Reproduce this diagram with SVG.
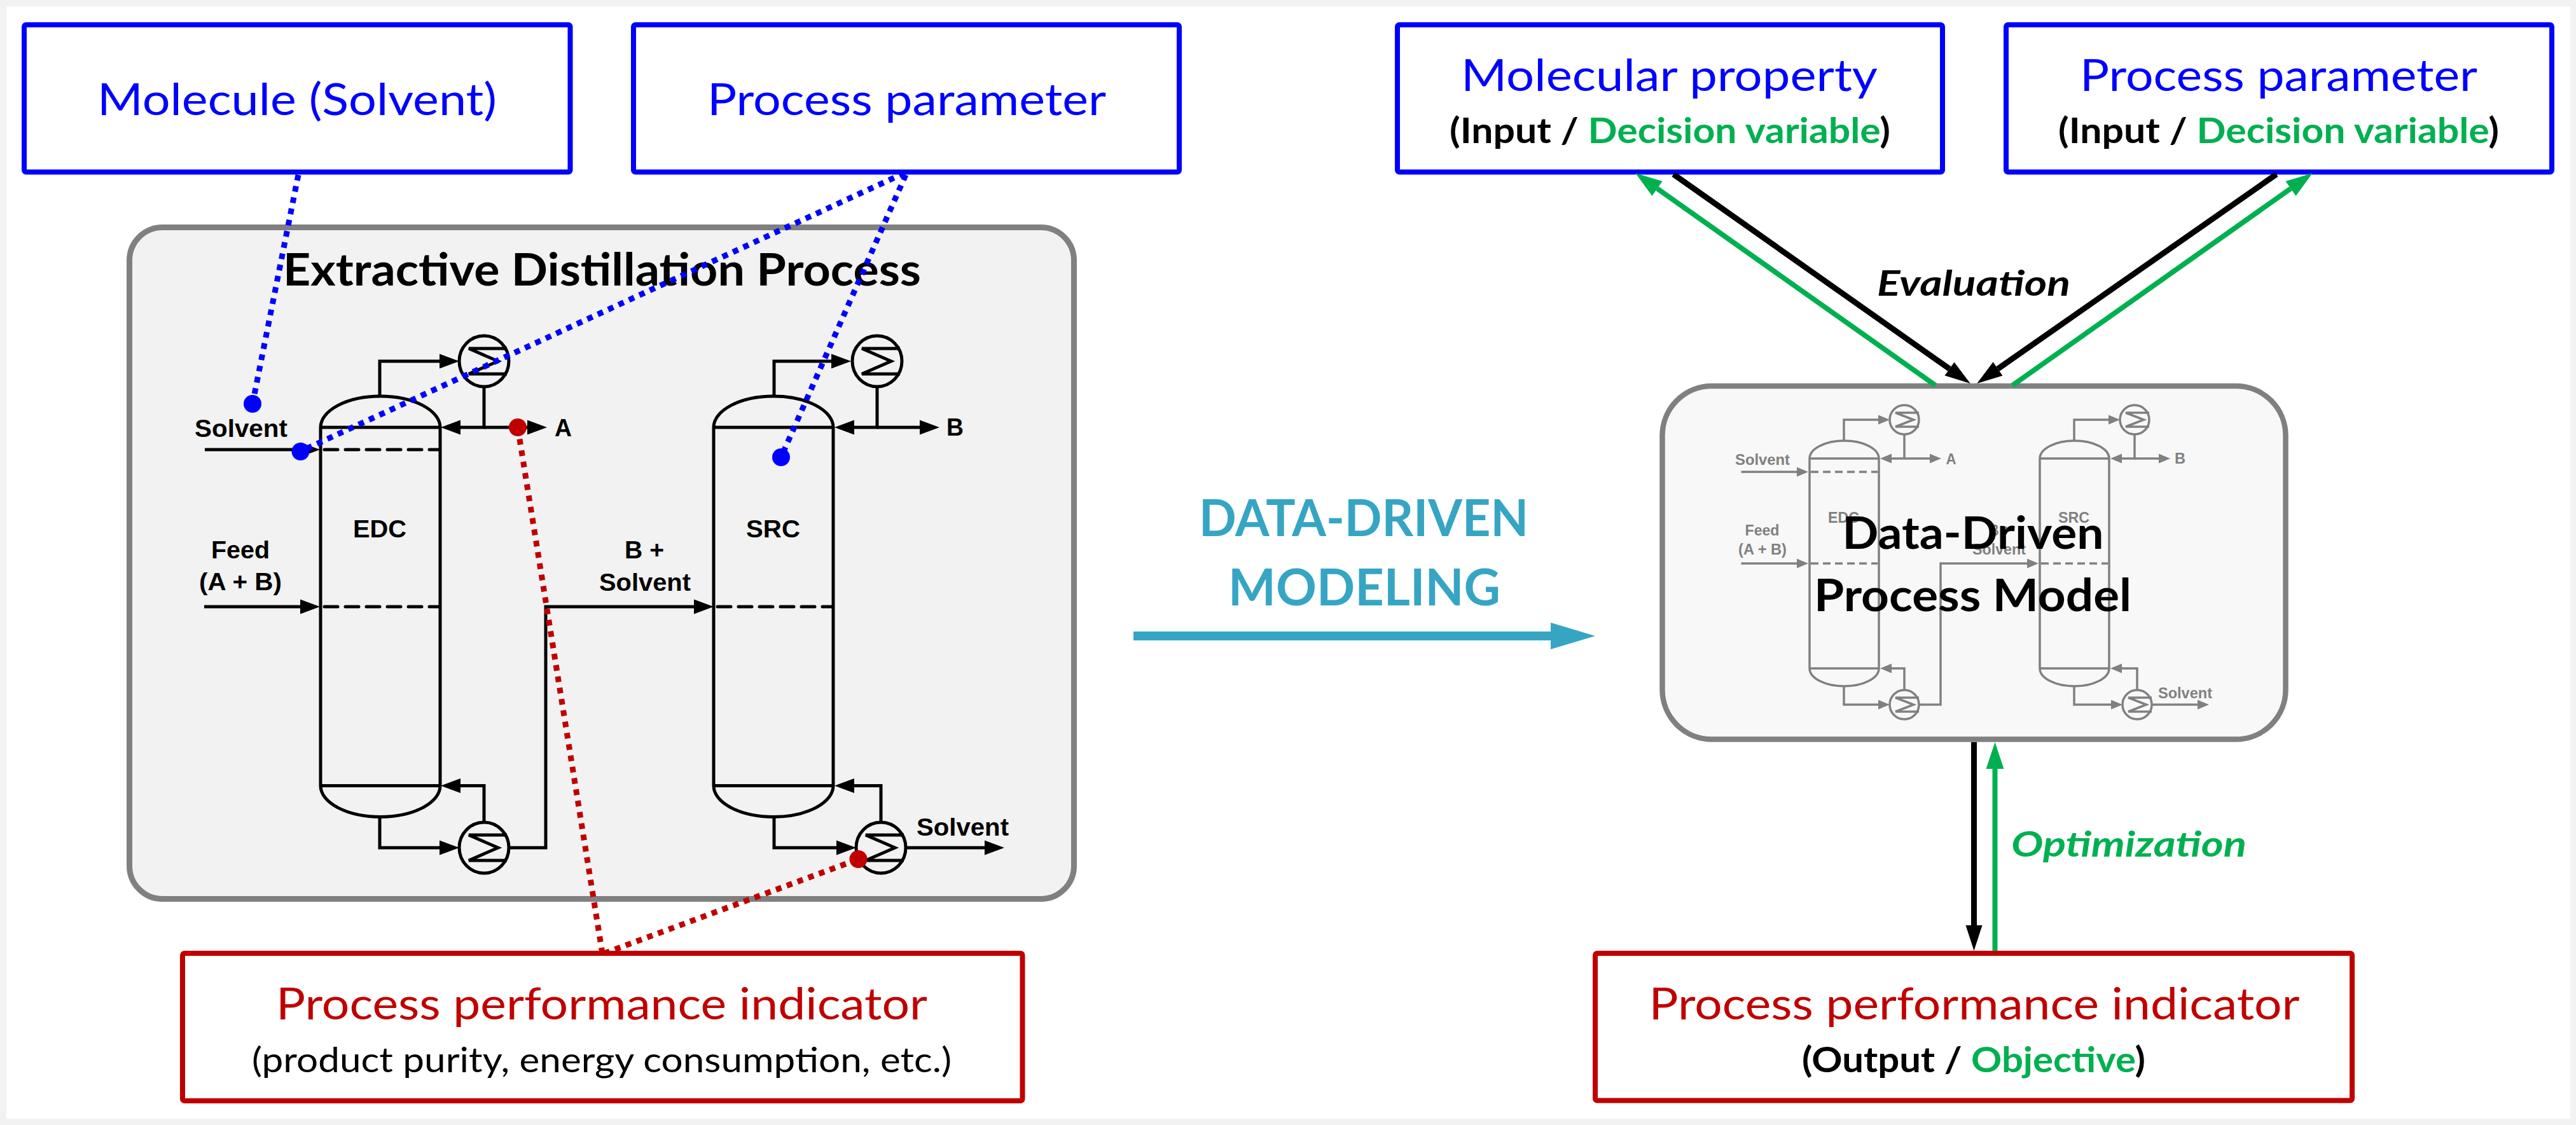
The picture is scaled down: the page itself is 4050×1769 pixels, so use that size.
<svg xmlns="http://www.w3.org/2000/svg" width="4050" height="1769" viewBox="0 0 4050 1769">
<style>
text{font-family:"Lato","Carlito","Open Sans",sans-serif}
.box{fill:#fff;stroke-width:8}
.blue{stroke:#0000ff}.red{stroke:#c00000}
.tb{fill:#0000ff;font-size:70px}
.tr{fill:#c00000;font-size:70px}
.sub{font-size:55px;font-weight:700;fill:#000}
.g{fill:#00b050}
.ttl{font-size:71px;font-weight:700;fill:#000}
.flow text,.mini text{font-family:"Liberation Sans",Arial,sans-serif;font-weight:700}
.flow text{font-size:38px;fill:#000}
.mini text{font-size:24px;fill:#808080}
.flow path,.flow line{fill:none;stroke:#000;stroke-width:5}
.mini path,.mini line{fill:none;stroke:#808080;stroke-width:3.5}
.flow .dash{stroke-dasharray:21 12;stroke-linecap:round}
.mini .dash{stroke-dasharray:12 7}
.arrow{marker-end:url(#ah)}
.mini .arrow{marker-end:url(#ahg)}
.dot{fill:none;stroke-width:9;stroke-dasharray:9 9}
.dotb{fill:#0000ff}.dotr{fill:#c00000}
.bk{stroke:#000;stroke-width:9;fill:none;marker-end:url(#hb)}
.gn{stroke:#00b050;stroke-width:8;fill:none;marker-end:url(#hg)}
</style>
<defs>
<marker id="ah" markerUnits="userSpaceOnUse" markerWidth="32" markerHeight="24" refX="0" refY="11.5" overflow="visible" orient="auto"><path d="M0,0L31,11.5L0,23Z" fill="#000"/></marker>
<marker id="ahg" markerUnits="userSpaceOnUse" markerWidth="20" markerHeight="16" refX="0" refY="7.5" overflow="visible" orient="auto"><path d="M0,0L18,7.5L0,15Z" fill="#808080"/></marker>
<marker id="hb" markerUnits="userSpaceOnUse" markerWidth="40" markerHeight="26" refX="0" refY="13" overflow="visible" orient="auto"><path d="M0,0L40,13L0,26Z" fill="#000"/></marker>
<marker id="hg" markerUnits="userSpaceOnUse" markerWidth="42" markerHeight="28" refX="0" refY="14" overflow="visible" orient="auto"><path d="M0,0L42,14L0,28Z" fill="#00b050"/></marker>
<g id="hx"><ellipse cx="0" cy="0" rx="39" ry="40" fill="none" stroke="#000" stroke-width="5"/><path d="M36,-20H-24L22,0L-24,20H36" fill="none" stroke="#000" stroke-width="5"/></g>
<g id="hxm"><ellipse cx="0" cy="0" rx="23" ry="23" fill="none" stroke="#808080" stroke-width="3.5"/><path d="M23,-11H-14L14.5,0L-14,11H23" fill="none" stroke="#808080" stroke-width="3.5"/></g>
</defs>
<rect width="4050" height="1769" fill="#f2f2f2"/>
<rect x="10" y="10" width="4031" height="1749" fill="#fff"/>

<g id="node-molecule">
<rect class="box blue" x="38" y="39" width="858.5" height="231.5" rx="3"/>
<text class="tb" x="153" y="181" textLength="628" lengthAdjust="spacingAndGlyphs">Molecule (Solvent)</text>
</g>
<g id="node-process-parameter-left">
<rect class="box blue" x="996" y="39" width="858" height="231.5" rx="3"/>
<text class="tb" x="1112" y="181" textLength="627" lengthAdjust="spacingAndGlyphs">Process parameter</text>
</g>

<g id="node-extractive-distillation">
<rect x="203.5" y="357.5" width="1485" height="1056" rx="52" fill="#f2f2f2" stroke="#808080" stroke-width="9"/>
<text class="ttl" x="445" y="449" textLength="1003" lengthAdjust="spacingAndGlyphs">Extractive Distillation Process</text>
<g class="flow">
<path d="M504,672A94,49 0 0 1 692,672H504M504,672V1235.5M692,672V1235.5M504,1235.5H692M504,1235.5A94,49 0 0 0 692,1235.5"/>
<path d="M1122,672A94,49 0 0 1 1310,672H1122M1122,672V1235.5M1310,672V1235.5M1122,1235.5H1310M1122,1235.5A94,49 0 0 0 1310,1235.5"/>
<path class="dash" d="M510,707H690"/><path class="dash" d="M510,954H690"/><path class="dash" d="M1128,954H1308"/>
<use href="#hx" x="761" y="568"/><use href="#hx" x="761" y="1333"/><use href="#hx" x="1379" y="568"/><use href="#hx" x="1385" y="1333"/>
<path class="arrow" d="M597,623V568H691"/>
<path class="arrow" d="M761,608V672H724"/>
<path class="arrow" d="M761,672H829"/>
<path class="arrow" d="M322,707H472"/>
<path class="arrow" d="M321,954H472"/>
<path class="arrow" d="M597,1284V1333H691"/>
<path class="arrow" d="M761,1293V1235.5H724"/>
<path class="arrow" d="M800,1333H858V954H1091"/>
<path class="arrow" d="M1217,623V568H1307"/>
<path class="arrow" d="M1379,608V672H1343"/>
<path class="arrow" d="M1379,672H1446"/>
<path class="arrow" d="M1217,1284V1333H1315"/>
<path class="arrow" d="M1385,1293V1235.5H1343"/>
<path class="arrow" d="M1424,1333H1548"/>
<text x="306" y="687" textLength="146" lengthAdjust="spacingAndGlyphs">Solvent</text>
<text x="872" y="686" textLength="27" lengthAdjust="spacingAndGlyphs">A</text>
<text x="1488" y="685" textLength="27" lengthAdjust="spacingAndGlyphs">B</text>
<text x="332" y="878" textLength="92" lengthAdjust="spacingAndGlyphs">Feed</text>
<text x="313" y="928" textLength="130" lengthAdjust="spacingAndGlyphs">(A + B)</text>
<text x="555" y="845" textLength="84" lengthAdjust="spacingAndGlyphs">EDC</text>
<text x="982" y="878" textLength="62" lengthAdjust="spacingAndGlyphs">B +</text>
<text x="942" y="929" textLength="144" lengthAdjust="spacingAndGlyphs">Solvent</text>
<text x="1173" y="845" textLength="85" lengthAdjust="spacingAndGlyphs">SRC</text>
<text x="1441" y="1314" textLength="145" lengthAdjust="spacingAndGlyphs">Solvent</text>
</g>
</g>

<g id="node-indicator-left">
<rect class="box red" x="287" y="1499" width="1320.5" height="232" rx="3"/>
<text class="tr" x="434" y="1603" textLength="1024" lengthAdjust="spacingAndGlyphs">Process performance indicator</text>
<text x="396" y="1686" font-size="54" fill="#000" textLength="1100" lengthAdjust="spacingAndGlyphs">(product purity, energy consumption, etc.)</text>
</g>

<g id="node-molecular-property">
<rect class="box blue" x="2197" y="39" width="857" height="231.5" rx="3"/>
<text class="tb" x="2297" y="143" textLength="655" lengthAdjust="spacingAndGlyphs">Molecular property</text>
<text class="sub" x="2279" y="225" textLength="693" lengthAdjust="spacingAndGlyphs">(Input / <tspan class="g">Decision variable</tspan>)</text>
</g>
<g id="node-process-parameter-right">
<rect class="box blue" x="3154" y="39" width="858" height="231.5" rx="3"/>
<text class="tb" x="3270" y="143" textLength="625" lengthAdjust="spacingAndGlyphs">Process parameter</text>
<text class="sub" x="3236" y="225" textLength="693" lengthAdjust="spacingAndGlyphs">(Input / <tspan class="g">Decision variable</tspan>)</text>
</g>

<g id="node-data-driven-model">
<rect x="2613.5" y="607" width="980" height="555.5" rx="78" fill="#f8f8f8" stroke="#808080" stroke-width="8.5"/>
<g class="mini">
<path d="M2845,721A54.5,28 0 0 1 2954,721H2845M2845,721V1051M2954,721V1051M2845,1051H2954M2845,1051A54.5,28 0 0 0 2954,1051"/>
<path d="M3207,721A54.5,28 0 0 1 3316,721H3207M3207,721V1051M3316,721V1051M3207,1051H3316M3207,1051A54.5,28 0 0 0 3316,1051"/>
<path class="dash" d="M2847,742H2952"/><path class="dash" d="M2847,886H2952"/><path class="dash" d="M3209,886H3314"/>
<use href="#hxm" x="2994" y="660"/><use href="#hxm" x="2994" y="1108"/><use href="#hxm" x="3356" y="660"/><use href="#hxm" x="3360" y="1108"/>
<path class="arrow" d="M2899,693V660H2953"/>
<path class="arrow" d="M2994,683V721H2974"/>
<path class="arrow" d="M2994,721H3034"/>
<path class="arrow" d="M2737.5,742H2825"/>
<path class="arrow" d="M2737.5,886H2825"/>
<path class="arrow" d="M2899,1079V1108H2953"/>
<path class="arrow" d="M2994,1085V1051H2974"/>
<path class="arrow" d="M3017,1108H3051V886H3187"/>
<path class="arrow" d="M3261,693V660H3315"/>
<path class="arrow" d="M3356,683V721H3336"/>
<path class="arrow" d="M3356,721H3394"/>
<path class="arrow" d="M3261,1079V1108H3319"/>
<path class="arrow" d="M3360,1085V1051H3336"/>
<path class="arrow" d="M3382,1108H3455"/>
<text x="2728" y="731" textLength="86" lengthAdjust="spacingAndGlyphs">Solvent</text>
<text x="3059.5" y="730" textLength="16" lengthAdjust="spacingAndGlyphs">A</text>
<text x="3419" y="729" textLength="17" lengthAdjust="spacingAndGlyphs">B</text>
<text x="2743.5" y="842" textLength="54" lengthAdjust="spacingAndGlyphs">Feed</text>
<text x="2733" y="872" textLength="76" lengthAdjust="spacingAndGlyphs">(A + B)</text>
<text x="2874" y="822" textLength="49" lengthAdjust="spacingAndGlyphs">EDC</text>
<text x="3128" y="842" textLength="32" lengthAdjust="spacingAndGlyphs">B +</text>
<text x="3101" y="872" textLength="84" lengthAdjust="spacingAndGlyphs">Solvent</text>
<text x="3236" y="822" textLength="49" lengthAdjust="spacingAndGlyphs">SRC</text>
<text x="3393" y="1098" textLength="85" lengthAdjust="spacingAndGlyphs">Solvent</text>
</g>
<text class="ttl" x="2896.5" y="862.5" textLength="411" lengthAdjust="spacingAndGlyphs">Data-Driven</text>
<text class="ttl" x="2852" y="961" textLength="499" lengthAdjust="spacingAndGlyphs">Process Model</text>
</g>

<g id="node-indicator-right">
<rect class="box red" x="2508" y="1499" width="1190" height="231.5" rx="3"/>
<text class="tr" x="2592.5" y="1603" textLength="1023" lengthAdjust="spacingAndGlyphs">Process performance indicator</text>
<text class="sub" x="2833" y="1686" textLength="540" lengthAdjust="spacingAndGlyphs">(Output / <tspan class="g">Objective</tspan>)</text>
</g>

<g id="label-data-driven-modeling" fill="#36a5c4" font-weight="700">
<text x="1885" y="843" font-size="80" textLength="518" lengthAdjust="spacingAndGlyphs">DATA-DRIVEN</text>
<text x="1931" y="952" font-size="80" textLength="428" lengthAdjust="spacingAndGlyphs">MODELING</text>
</g>
<text id="label-evaluation" x="2951" y="465" font-size="55" font-weight="700" font-style="italic" fill="#000" textLength="304" lengthAdjust="spacingAndGlyphs">Evaluation</text>
<text id="label-optimization" x="3162" y="1346.5" font-size="55" font-weight="700" font-style="italic" fill="#00b050" textLength="370" lengthAdjust="spacingAndGlyphs">Optimization</text>

<g id="connectors">
<line class="dot blue" x1="469" y1="275" x2="397" y2="635"/>
<line class="dot blue" x1="1422" y1="272" x2="472" y2="710"/>
<line class="dot blue" x1="1424" y1="275" x2="1228" y2="719"/>
<line class="dot red" x1="947" y1="1499" x2="814" y2="672"/>
<line class="dot red" x1="950" y1="1499" x2="1349.5" y2="1351"/>
<circle class="dotb" cx="397" cy="635" r="14"/>
<circle class="dotb" cx="472.5" cy="710" r="14"/>
<circle class="dotb" cx="1228" cy="719" r="14"/>
<circle class="dotr" cx="814" cy="672" r="14"/>
<circle class="dotr" cx="1349.5" cy="1351" r="14"/>
<path d="M1782,993H2438V979L2508,1000L2438,1021V1007H1782Z" fill="#36a5c4"/>
<line class="gn" x1="3043" y1="606" x2="2605.5" y2="296.5"/>
<line class="gn" x1="3164" y1="606" x2="3601.5" y2="296.5"/>
<line class="bk" x1="2631" y1="274" x2="3065" y2="580"/>
<line class="bk" x1="3579" y1="274" x2="3141" y2="580"/>
<line class="bk" x1="3103.5" y1="1167" x2="3103.5" y2="1455"/>
<line class="gn" x1="3136.5" y1="1495" x2="3136.5" y2="1209"/>
</g>
</svg>
